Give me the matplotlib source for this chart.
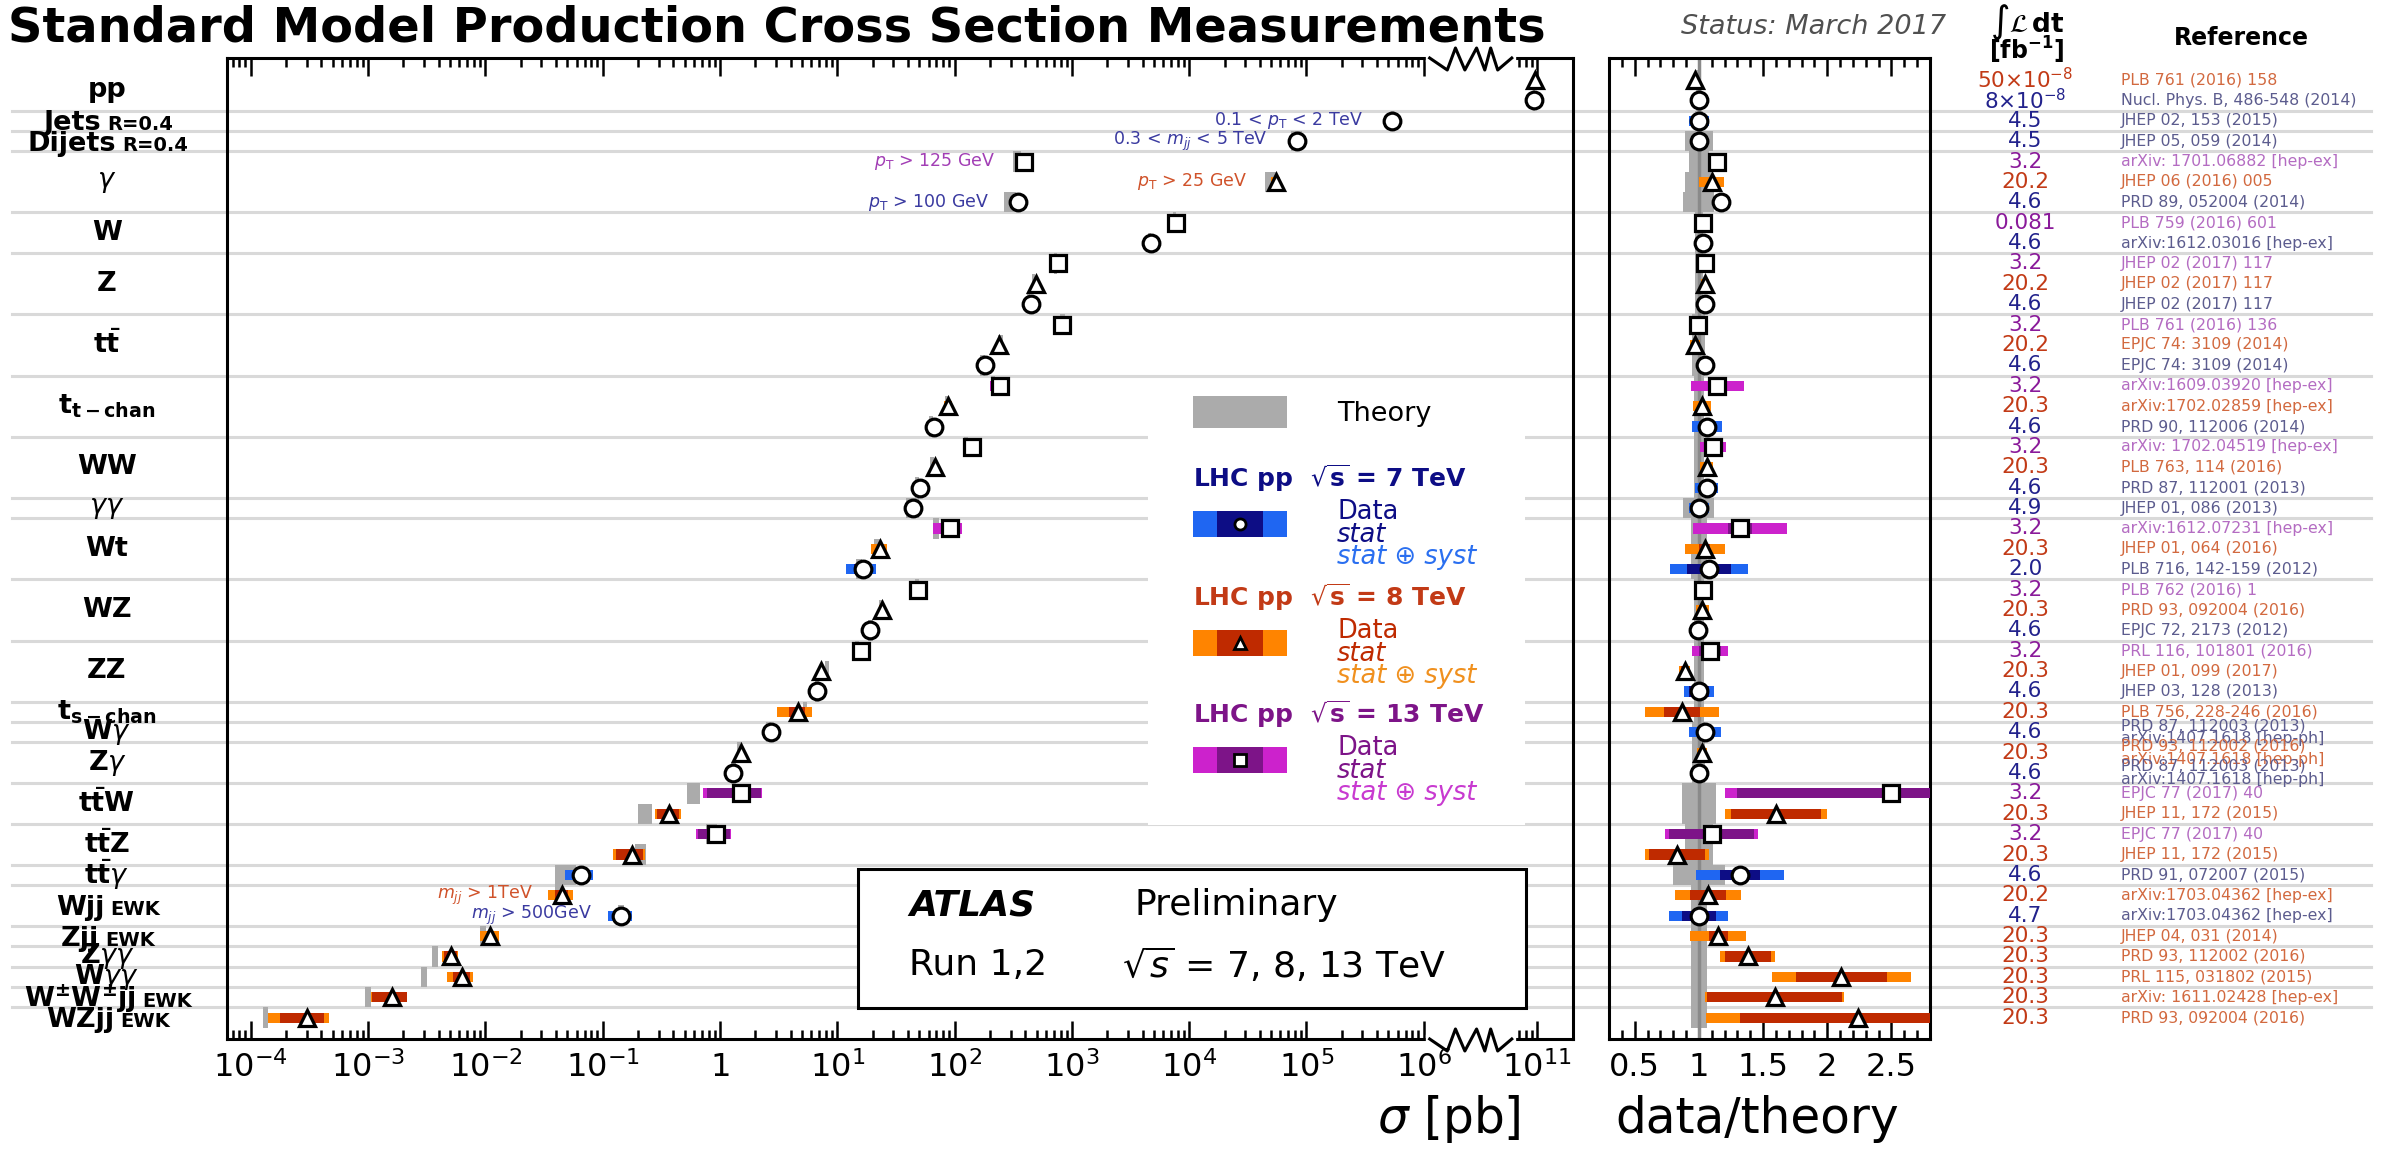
import numpy as np
import matplotlib
matplotlib.use('Agg')
import matplotlib.pyplot as plt
from matplotlib.lines import Line2D
from matplotlib.patches import Rectangle
from matplotlib.transforms import blended_transform_factory

plt.rcParams['font.family'] = ['DejaVu Sans']
plt.rcParams['mathtext.fontset'] = 'dejavusans'

# ---- process groups (left column) ----
proc_labels = ['pp', 'Jets', 'Dijets', r'$\gamma$', 'W', 'Z', r'$\mathbf{t\bar{t}}$',
               r'$\mathbf{t_{t-chan}}$', 'WW', r'$\gamma\gamma$', 'Wt', 'WZ', 'ZZ',
               r'$\mathbf{t_{s-chan}}$', r'W$\gamma$', r'Z$\gamma$', r'$\mathbf{t\bar{t}W}$',
               r'$\mathbf{t\bar{t}Z}$', r'$\mathbf{t\bar{t}}\gamma$', 'Wjj', 'Zjj',
               r'Z$\gamma\gamma$', r'W$\gamma\gamma$', r'$\mathbf{W^{\pm}W^{\pm}jj}$', 'WZjj']
proc_suffix = ['', 'R=0.4', 'R=0.4', '', '', '', '', '', '', '', '', '', '', '', '', '', '', '', '',
               'EWK', 'EWK', '', '', 'EWK', 'EWK']
proc_nmeas = [2, 1, 1, 3, 2, 3, 3, 3, 3, 1, 3, 3, 3, 1, 1, 2, 2, 2, 1, 2, 1, 1, 1, 1, 1]

# ---- measurements, top to bottom ----
energy = [8, 7, 7, 7, 13, 8, 7, 13, 7, 13, 8, 7, 13, 8, 7, 13, 8, 7, 13, 8, 7, 7,
          13, 8, 7, 13, 8, 7, 13, 8, 7, 8, 7, 8, 7, 13, 8, 13, 8, 7, 8, 7, 8, 8, 8, 8, 8]
sigma = [9.6e10, 9.5e10, 5.4e5, 8.3e4, 390, 5.5e4, 350, 7.7e3, 4.7e3, 760, 490, 450,
         820, 240, 180, 245, 88, 67, 140, 68, 51, 44, 91, 23, 16.6, 49, 24, 19,
         16, 7.3, 6.7, 4.6, 2.7, 1.5, 1.3, 1.5, 0.37, 0.93, 0.176, 0.065,
         0.045, 0.144, 0.011, 0.0051, 0.0063, 0.0016, 0.00030]
ratio = [0.97, 1.0, 1.0, 1.0, 1.145, 1.10, 1.17, 1.03, 1.03, 1.05, 1.05, 1.05,
         0.99, 0.97, 1.045, 1.145, 1.025, 1.06, 1.11, 1.06, 1.06, 1.0, 1.32, 1.045, 1.08,
         1.03, 1.025, 0.99, 1.085, 0.89, 1.0, 0.87, 1.05, 1.025, 1.0, 2.5, 1.6, 1.1, 0.83,
         1.32, 1.07, 1.0, 1.15, 1.38, 2.11, 1.59, 2.24]
stat_rel = [0.01, 0.01, 0.01, 0.01, 0.01, 0.01, 0.01, 0.01, 0.005, 0.005, 0.005, 0.005,
            0.01, 0.005, 0.01, 0.06, 0.02, 0.03, 0.03, 0.01, 0.03, 0.02, 0.07, 0.04, 0.16,
            0.03, 0.02, 0.03, 0.08, 0.03, 0.077, 0.16, 0.02, 0.01, 0.02, 0.48, 0.22, 0.30,
            0.265, 0.12, 0.13, 0.135, 0.065, 0.13, 0.168, 0.33, 0.41]
tot_rel = [0.02, 0.02, 0.08, 0.05, 0.04, 0.09, 0.05, 0.03, 0.02, 0.03, 0.03, 0.02,
           0.04, 0.04, 0.04, 0.18, 0.07, 0.11, 0.09, 0.05, 0.085, 0.08, 0.28, 0.15, 0.28,
           0.05, 0.05, 0.06, 0.13, 0.05, 0.117, 0.33, 0.12, 0.04, 0.06, 0.52, 0.25, 0.33,
           0.30, 0.26, 0.24, 0.23, 0.19, 0.156, 0.256, 0.34, 0.53]
theory_rel = [0.02, 0.02, 0.03, 0.11, 0.08, 0.11, 0.12, 0.03, 0.03, 0.03, 0.03, 0.03,
              0.05, 0.05, 0.05, 0.04, 0.04, 0.04, 0.04, 0.04, 0.04, 0.12, 0.06, 0.06, 0.06,
              0.04, 0.04, 0.04, 0.04, 0.04, 0.04, 0.04, 0.05, 0.05, 0.05, 0.13, 0.13, 0.11,
              0.11, 0.2, 0.06, 0.06, 0.06, 0.06, 0.06, 0.06, 0.06]
lumi = [r'50$\times$10$^{-8}$', r'8$\times$10$^{-8}$', '4.5', '4.5', '3.2', '20.2', '4.6',
        '0.081', '4.6', '3.2', '20.2', '4.6', '3.2', '20.2', '4.6', '3.2', '20.3', '4.6',
        '3.2', '20.3', '4.6', '4.9', '3.2', '20.3', '2.0', '3.2', '20.3', '4.6', '3.2',
        '20.3', '4.6', '20.3', '4.6', '20.3', '4.6', '3.2', '20.3', '3.2', '20.3', '4.6',
        '20.2', '4.7', '20.3', '20.3', '20.3', '20.3', '20.3']
refs = ['PLB 761 (2016) 158', 'Nucl. Phys. B, 486-548 (2014)', 'JHEP 02, 153 (2015)',
        'JHEP 05, 059 (2014)', 'arXiv: 1701.06882 [hep-ex]', 'JHEP 06 (2016) 005',
        'PRD 89, 052004 (2014)', 'PLB 759 (2016) 601', 'arXiv:1612.03016 [hep-ex]',
        'JHEP 02 (2017) 117', 'JHEP 02 (2017) 117', 'JHEP 02 (2017) 117',
        'PLB 761 (2016) 136', 'EPJC 74: 3109 (2014)', 'EPJC 74: 3109 (2014)',
        'arXiv:1609.03920 [hep-ex]', 'arXiv:1702.02859 [hep-ex]', 'PRD 90, 112006 (2014)',
        'arXiv: 1702.04519 [hep-ex]', 'PLB 763, 114 (2016)', 'PRD 87, 112001 (2013)',
        'JHEP 01, 086 (2013)', 'arXiv:1612.07231 [hep-ex]', 'JHEP 01, 064 (2016)',
        'PLB 716, 142-159 (2012)', 'PLB 762 (2016) 1', 'PRD 93, 092004 (2016)',
        'EPJC 72, 2173 (2012)', 'PRL 116, 101801 (2016)', 'JHEP 01, 099 (2017)',
        'JHEP 03, 128 (2013)', 'PLB 756, 228-246 (2016)',
        'PRD 87, 112003 (2013)\narXiv:1407.1618 [hep-ph]',
        'PRD 93, 112002 (2016)\narXiv:1407.1618 [hep-ph]',
        'PRD 87, 112003 (2013)\narXiv:1407.1618 [hep-ph]',
        'EPJC 77 (2017) 40', 'JHEP 11, 172 (2015)', 'EPJC 77 (2017) 40',
        'JHEP 11, 172 (2015)', 'PRD 91, 072007 (2015)', 'arXiv:1703.04362 [hep-ex]',
        'arXiv:1703.04362 [hep-ex]', 'JHEP 04, 031 (2014)', 'PRD 93, 112002 (2016)',
        'PRL 115, 031802 (2015)', 'arXiv: 1611.02428 [hep-ex]', 'PRD 93, 092004 (2016)']
notes = {2: r'0.1 < $p_{\rm T}$ < 2 TeV', 3: r'0.3 < $m_{jj}$ < 5 TeV',
         4: r'$p_{\rm T}$ > 125 GeV', 5: r'$p_{\rm T}$ > 25 GeV', 6: r'$p_{\rm T}$ > 100 GeV',
         40: r'$m_{jj}$ > 1TeV', 41: r'$m_{jj}$ > 500GeV'}

# styles per centre-of-mass energy
light = {7: '#1f66f2', 8: '#ff8400', 13: '#cc22cc'}
dark = {7: '#0d0d85', 8: '#bf2a00', 13: '#7d1488'}
txt_col = {7: '#22228c', 8: '#c23a16', 13: '#8a1a9a'}
ref_col = {7: '#5c5c8e', 8: '#d2693f', 13: '#b46cc2'}
note_col = {7: '#3a3aa0', 8: '#d0522a', 13: '#a23eb5'}
syst_col = {7: '#2a6ff0', 8: '#f0901e', 13: '#c83ad0'}
marker = {7: 'o', 8: '^', 13: 's'}
theory_grey = '#ababab'

energy = np.array(energy)
sigma = np.array(sigma)
ratio = np.array(ratio)
stat_rel = np.array(stat_rel)
tot_rel = np.array(tot_rel)
theory_rel = np.array(theory_rel)
rows = np.arange(len(sigma))
theory = sigma / ratio

# broken log axis: 10^-4 ... 10^6 // 10^11
B0, B1, S = 6.05, 6.75, 4.035


def fwd(x):
    x = np.asarray(x, dtype=float)
    lx = np.log10(np.where(x > 0, x, 1e-300))
    mid = B0 + (lx - B0) * (B1 - B0) / (B1 + S - B0)
    return np.where(lx <= B0, lx, np.where(lx >= B1 + S, lx - S, mid))


def inv(p):
    p = np.asarray(p, dtype=float)
    mid = B0 + (p - B0) * (B1 + S - B0) / (B1 - B0)
    return np.where(p <= B0, 10.0 ** p, np.where(p >= B1, 10.0 ** (p + S), 10.0 ** mid))


W, H = 2407, 1149
fig = plt.figure(figsize=(W / 100, H / 100), dpi=100)
ax = fig.add_axes([227 / W, 1 - 1039 / H, 1346 / W, 981 / H])
ax2 = fig.add_axes([1609 / W, 1 - 1039 / H, 321 / W, 981 / H])
for a in (ax, ax2):
    a.set_facecolor('none')
    a.set_yticks([])
    for s in a.spines.values():
        s.set_linewidth(2.2)
    a.tick_params(which='both', direction='in', top=True, bottom=True, width=1.8)
    a.tick_params(which='major', length=13)
    a.tick_params(which='minor', length=6.5)

ax.set_xscale('function', functions=(fwd, inv))
ax.set_xlim(float(inv(-4.203)), float(inv(7.272)))
ax2.set_xlim(0.3, 2.8)

# main panel
ax.barh(rows, 2 * theory_rel * theory, left=theory * (1 - theory_rel), height=1.0,
        color=theory_grey, lw=0, zorder=2)
for e in (7, 8, 13):
    m = energy == e
    ax.barh(rows[m], 2 * tot_rel[m] * sigma[m], left=sigma[m] * (1 - tot_rel[m]),
            height=0.5, color=light[e], lw=0, zorder=3)
    ax.barh(rows[m], 2 * stat_rel[m] * sigma[m], left=sigma[m] * (1 - stat_rel[m]),
            height=0.5, color=dark[e], lw=0, zorder=3.5)
    ax.plot(sigma[m], rows[m], ls='none', marker=marker[e], ms=12 if e != 13 else 11,
            mfc='white', mec='black', mew=2.3, zorder=5)
for i, s in notes.items():
    ax.annotate(s, xy=(sigma[i], i), xytext=(-21, 0), textcoords='offset points',
                ha='right', va='center', fontsize=12.5, color=note_col[energy[i]])

# ratio panel
ax2.barh(rows, 2 * theory_rel, left=1 - theory_rel, height=1.0, color=theory_grey,
         lw=0, zorder=2)
ax2.axvline(1, color='#8a8a8a', lw=2.5, zorder=2.5)
for e in (7, 8, 13):
    m = energy == e
    ax2.barh(rows[m], 2 * tot_rel[m] * ratio[m], left=ratio[m] * (1 - tot_rel[m]),
             height=0.5, color=light[e], lw=0, zorder=3)
    ax2.barh(rows[m], 2 * stat_rel[m] * ratio[m], left=ratio[m] * (1 - stat_rel[m]),
             height=0.5, color=dark[e], lw=0, zorder=3.5)
    ax2.plot(ratio[m], rows[m], ls='none', marker=marker[e], ms=12 if e != 13 else 11,
             mfc='white', mec='black', mew=2.3, zorder=5)

for a in (ax, ax2):
    a.set_ylim(47.05, -1.08)

# ticks
major = [1e-4, 1e-3, 1e-2, 1e-1, 1, 1e1, 1e2, 1e3, 1e4, 1e5, 1e6, 1e11]
major_lab = [r'$10^{-4}$', r'$10^{-3}$', r'$10^{-2}$', r'$10^{-1}$', r'$1$', r'$10^{1}$',
             r'$10^{2}$', r'$10^{3}$', r'$10^{4}$', r'$10^{5}$', r'$10^{6}$', r'$10^{11}$']
minor = [m * 10.0 ** k for k in range(-5, 6) for m in range(2, 10)
         if 6.3e-5 < m * 10.0 ** k < 1e6] + [7e10, 8e10, 9e10]
ax.set_xticks(major)
ax.set_xticklabels(major_lab)
ax.set_xticks(minor, minor=True)
ax.set_xticklabels([], minor=True)
ax.tick_params(axis='x', labelsize=23, pad=9)
ax2.set_xticks([0.5, 1, 1.5, 2, 2.5])
ax2.set_xticklabels(['0.5', '1', '1.5', '2', '2.5'])
ax2.set_xticks([v for v in np.round(np.arange(0.4, 2.8, 0.1), 1) if v * 2 != round(v * 2)],
               minor=True)
ax2.tick_params(axis='x', labelsize=23, pad=9)

# axis break zigzags
bt = blended_transform_factory(ax.transData, ax.transAxes)
zz_pos = [6.05, 6.2, 6.27, 6.35, 6.45, 6.52, 6.57, 6.63, 6.75]
zz_off = [0, 12, -10, 12, -10, 12, -10, 12, 0]
zx = inv(np.array(zz_pos))
for base in (1.0, 0.0):
    ax.add_line(Line2D(inv(np.array([B0, B1])), [base, base], transform=bt, color='white',
                       lw=6, clip_on=False, zorder=2.6))
    ax.add_line(Line2D(zx, [base - o / 981 for o in zz_off], transform=bt, color='black',
                       lw=2.2, clip_on=False, zorder=2.7))

# row separators, process labels, lumi and references
rowT = blended_transform_factory(fig.transFigure, ax.transData)
starts = np.concatenate([[0], np.cumsum(proc_nmeas)])
for b in starts[1:-1]:
    fig.add_artist(Line2D([12 / W, 2371 / W], [b - 0.5, b - 0.5], transform=rowT,
                          color='#d9d9d9', lw=2.2, zorder=-1))

renderer = fig.canvas.get_renderer()
for k, lab in enumerate(proc_labels):
    yc = starts[k] + (proc_nmeas[k] - 1) / 2
    if not proc_suffix[k]:
        fig.text(107 / W, yc, lab, transform=rowT, ha='center', va='center',
                 fontsize=19.5, fontweight='bold')
        continue
    t1 = fig.text(0, yc + 0.47, lab, transform=rowT, ha='left', va='baseline',
                  fontsize=19.5, fontweight='bold')
    t2 = fig.text(0, yc + 0.47, proc_suffix[k], transform=rowT, ha='left', va='baseline',
                  fontsize=14, fontweight='bold')
    w1 = t1.get_window_extent(renderer).width
    w2 = t2.get_window_extent(renderer).width
    x0 = 108 - (w1 + 6 + w2) / 2
    t1.set_x(x0 / W)
    t2.set_x((x0 + w1 + 6) / W)

for i in rows:
    e = energy[i]
    fig.text(2025 / W, i, lumi[i], transform=rowT, ha='center', va='center',
             fontsize=15.5, color=txt_col[e])
    fig.text(2121 / W, i, refs[i], transform=rowT, ha='left', va='center',
             fontsize=11.3, color=ref_col[e], linespacing=0.85)


def box(x0, y0, x1, y1, **kw):
    fig.add_artist(Rectangle((x0 / W, 1 - y1 / H), (x1 - x0) / W, (y1 - y0) / H,
                             transform=fig.transFigure, **kw))


def ftext(x, y, s, **kw):
    fig.text(x / W, 1 - y / H, s, **kw)


# header texts
ftext(8, 28, 'Standard Model Production Cross Section Measurements', fontsize=34.5,
      fontweight='bold', va='center')
ftext(1681, 27, 'Status: March 2017', fontsize=19.5, style='italic', color='#505050',
      va='center')
ftext(2027, 22, r'$\int\mathcal{L}\,\mathbf{dt}$', fontsize=19, ha='center', va='center')
ftext(2027, 50, r'$\mathbf{[fb^{-1}]}$', fontsize=17, ha='center', va='center')
ftext(2241, 38, 'Reference', fontsize=17, fontweight='bold', ha='center', va='center')

# legend
box(1148, 380, 1525, 825, facecolor='white', edgecolor='none', zorder=1)
box(1193, 396, 1287, 428, facecolor=theory_grey, edgecolor='none', zorder=2)
ftext(1337, 414, 'Theory', fontsize=19.5, va='center')
energy_label = {7: '7', 8: '8', 13: '13'}
for e, yh in zip((7, 8, 13), (478, 597, 714)):
    ftext(1193, yh, 'LHC pp  $\\sqrt{\\mathbf{s}}$ = %s TeV' % energy_label[e], fontsize=18,
          fontweight='bold', color=dark[e] if e != 8 else txt_col[e], va='center')
    box(1193, yh + 33, 1287, yh + 59, facecolor=light[e], edgecolor='none', zorder=2)
    box(1217, yh + 33, 1263, yh + 59, facecolor=dark[e], edgecolor='none', zorder=2)
    fig.add_artist(Line2D([1240 / W], [1 - (yh + 46) / H], transform=fig.transFigure,
                          marker=marker[e], ms=8, mfc='white', mec='black', mew=2,
                          ls='none', zorder=3))
    ftext(1337, yh + 34, 'Data', fontsize=18.5, color=dark[e], va='center')
    ftext(1337, yh + 57, 'stat', fontsize=18.5, style='italic', color=dark[e], va='center')
    ftext(1337, yh + 79, 'stat \u2295 syst', fontsize=18.5, style='italic',
          color=syst_col[e], va='center')

# ATLAS box
box(858, 869, 1526, 1008, facecolor='white', edgecolor='black', lw=2.2, zorder=1)
ftext(909, 905, 'ATLAS', fontsize=26, fontweight='bold', style='italic', va='center')
ftext(1134, 905, 'Preliminary', fontsize=26, va='center')
ftext(909, 965, 'Run 1,2', fontsize=26, va='center')
ftext(1122, 965, r'$\sqrt{s}$ = 7, 8, 13 TeV', fontsize=26, va='center')

# axis titles
ftext(1521, 1119, r'$\sigma$ [pb]', fontsize=35, ha='right', va='center')
ftext(1757, 1119, 'data/theory', fontsize=35, ha='center', va='center')

fig.savefig('out.png', dpi=100)
